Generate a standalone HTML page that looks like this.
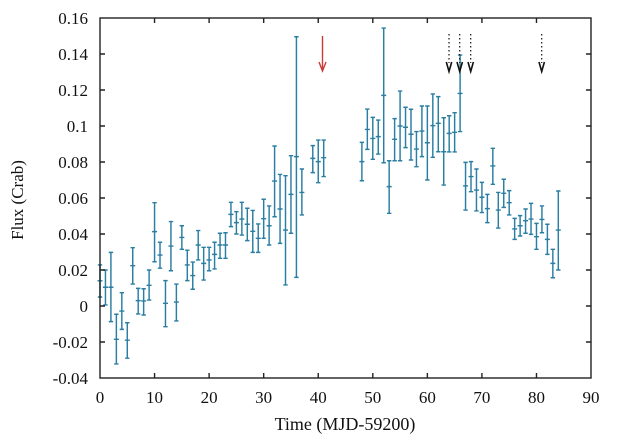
<!DOCTYPE html>
<html>
<head>
<meta charset="utf-8">
<style>
html,body{margin:0;padding:0;background:#fff;}
svg{display:block;}
text{font-family:"Liberation Serif",serif;fill:#111;}
</style>
</head>
<body>
<svg width="634" height="442" viewBox="0 0 634 442" xmlns="http://www.w3.org/2000/svg">
<rect x="0" y="0" width="634" height="442" fill="#fff"/>
<g transform="translate(100,306) scale(5.456,-1800)">
<path fill="none" stroke="#2a7ea2" stroke-width="1.45" vector-effect="non-scaling-stroke" d="M0 .005V.0228m-.4 0h.8M-.4 .005h.8M-.46 .014h.92 M1 .0006V.02m-.4 0h.8M.6 .0006h.8M.54 .0104h.92 M2 -.0087V.0298m-.4 0h.8M1.6 -.0087h.8M1.54 .0104h.92 M3 -.0322V-.0046m-.4 0h.8M2.6 -.0322h.8M2.54 -.0185h.92 M4 -.013V.0074m-.4 0h.8M3.6 -.013h.8M3.54 -.0028h.92 M5 -.029V-.0093m-.4 0h.8M4.6 -.029h.8M4.54 -.019h.92 M6 .0122V.0324m-.4 0h.8M5.6 .0122h.8M5.54 .0224h.92 M7 -.0044V.0098m-.4 0h.8M6.6 -.0044h.8M6.54 .003h.92 M8 -.005V.0096m-.4 0h.8M7.6 -.005h.8M7.54 .0028h.92 M9 .0033V.02m-.4 0h.8M8.6 .0033h.8M8.54 .0115h.92 M10 .0246V.0574m-.4 0h.8M9.6 .0246h.8M9.54 .0413h.92 M11 .021V.0354m-.4 0h.8M10.6 .021h.8M10.54 .0283h.92 M12 -.0115V.0141m-.4 0h.8M11.6 -.0115h.8M11.54 .0015h.92 M13 .0196V.0469m-.4 0h.8M12.6 .0196h.8M12.54 .0333h.92 M14 -.0083V.0122m-.4 0h.8M13.6 -.0083h.8M13.54 .0022h.92 M15 .0315V.0446m-.4 0h.8M14.6 .0315h.8M14.54 .0381h.92 M16 .0141V.031m-.4 0h.8M15.6 .0141h.8M15.54 .0228h.92 M17 .0093V.0244m-.4 0h.8M16.6 .0093h.8M16.54 .0169h.92 M18 .0256V.0419m-.4 0h.8M17.6 .0256h.8M17.54 .0339h.92 M19 .0144V.0326m-.4 0h.8M18.6 .0144h.8M18.54 .0237h.92 M20 .0196V.0326m-.4 0h.8M19.6 .0196h.8M19.54 .0256h.92 M21 .0206V.0354m-.4 0h.8M20.6 .0206h.8M20.54 .0287h.92 M22 .0265V.0404m-.4 0h.8M21.6 .0265h.8M21.54 .0339h.92 M23 .0265V.0407m-.4 0h.8M22.6 .0265h.8M22.54 .0339h.92 M24 .0441V.0576m-.4 0h.8M23.6 .0441h.8M23.54 .0509h.92 M25 .04V.0524m-.4 0h.8M24.6 .04h.8M24.54 .0463h.92 M26 .0394V.0576m-.4 0h.8M25.6 .0394h.8M25.54 .0483h.92 M27 .0363V.0543m-.4 0h.8M26.6 .0363h.8M26.54 .0454h.92 M28 .0298V.0531m-.4 0h.8M27.6 .0298h.8M27.54 .0415h.92 M29 .0298V.0456m-.4 0h.8M28.6 .0298h.8M28.54 .0376h.92 M30 .0376V.0593m-.4 0h.8M29.6 .0376h.8M29.54 .0485h.92 M31 .0339V.0556m-.4 0h.8M30.6 .0339h.8M30.54 .0446h.92 M32 .0496V.0889m-.4 0h.8M31.6 .0496h.8M31.54 .0694h.92 M33 .0348V.0731m-.4 0h.8M32.6 .0348h.8M32.54 .0539h.92 M34 .0117V.0724m-.4 0h.8M33.6 .0117h.8M33.54 .0422h.92 M35 .0404V.0835m-.4 0h.8M34.6 .0404h.8M34.54 .062h.92 M36 .0159V.1496m-.4 0h.8M35.6 .0159h.8M35.54 .083h.92 M37 .0506V.0761m-.4 0h.8M36.6 .0506h.8M36.54 .0631h.92 M39 .0741V.0891m-.4 0h.8M38.6 .0741h.8M38.54 .082h.92 M40 .0685V.0922m-.4 0h.8M39.6 .0685h.8M39.54 .0802h.92 M41 .0719V.0922m-.4 0h.8M40.6 .0719h.8M40.54 .0824h.92 M48 .0696V.0909m-.4 0h.8M47.6 .0696h.8M47.54 .0802h.92 M49 .087V.1094m-.4 0h.8M48.6 .087h.8M48.54 .0981h.92 M50 .0815V.1048m-.4 0h.8M49.6 .0815h.8M49.54 .0931h.92 M51 .0844V.1033m-.4 0h.8M50.6 .0844h.8M50.54 .0941h.92 M52 .0796V.1544m-.4 0h.8M51.6 .0796h.8M51.54 .117h.92 M53 .0515V.0807m-.4 0h.8M52.6 .0515h.8M52.54 .0663h.92 M54 .0807V.1041m-.4 0h.8M53.6 .0807h.8M53.54 .0926h.92 M55 .0807V.1194m-.4 0h.8M54.6 .0807h.8M54.54 .1h.92 M56 .088V.1104m-.4 0h.8M55.6 .088h.8M55.54 .0993h.92 M57 .0811V.1093m-.4 0h.8M56.6 .0811h.8M56.54 .0954h.92 M58 .0774V.0969m-.4 0h.8M57.6 .0774h.8M57.54 .0872h.92 M59 .083V.1111m-.4 0h.8M58.6 .083h.8M58.54 .0972h.92 M60 .07V.1111m-.4 0h.8M59.6 .07h.8M59.54 .0907h.92 M61 .0826V.1178m-.4 0h.8M60.6 .0826h.8M60.54 .1002h.92 M62 .0857V.1163m-.4 0h.8M61.6 .0857h.8M61.54 .1015h.92 M63 .0672V.1046m-.4 0h.8M62.6 .0672h.8M62.54 .0857h.92 M64 .0856V.1057m-.4 0h.8M63.6 .0856h.8M63.54 .0959h.92 M65 .0856V.1074m-.4 0h.8M64.6 .0856h.8M64.54 .0965h.92 M66 .0969V.1394m-.4 0h.8M65.6 .0969h.8M65.54 .1181h.92 M67 .0533V.0798m-.4 0h.8M66.6 .0533h.8M66.54 .0667h.92 M68 .0635V.0802m-.4 0h.8M67.6 .0635h.8M67.54 .0719h.92 M69 .0528V.0761m-.4 0h.8M68.6 .0528h.8M68.54 .0644h.92 M70 .0519V.0687m-.4 0h.8M69.6 .0519h.8M69.54 .0604h.92 M71 .0463V.062m-.4 0h.8M70.6 .0463h.8M70.54 .0541h.92 M72 .0676V.0876m-.4 0h.8M71.6 .0676h.8M71.54 .0778h.92 M73 .0433V.0631m-.4 0h.8M72.6 .0433h.8M72.54 .0533h.92 M74 .0548V.0704m-.4 0h.8M73.6 .0548h.8M73.54 .0626h.92 M75 .0506V.0641m-.4 0h.8M74.6 .0506h.8M74.54 .0574h.92 M76 .037V.0487m-.4 0h.8M75.6 .037h.8M75.54 .0428h.92 M77 .0389V.0502m-.4 0h.8M76.6 .0389h.8M76.54 .0446h.92 M78 .0404V.0539m-.4 0h.8M77.6 .0404h.8M77.54 .0474h.92 M79 .0398V.057m-.4 0h.8M78.6 .0398h.8M78.54 .0483h.92 M80 .0315V.0459m-.4 0h.8M79.6 .0315h.8M79.54 .0385h.92 M81 .0407V.0556m-.4 0h.8M80.6 .0407h.8M80.54 .0481h.92 M82 .0287V.0454m-.4 0h.8M81.6 .0287h.8M81.54 .037h.92 M83 .0157V.0315m-.4 0h.8M82.6 .0157h.8M82.54 .0237h.92 M84 .02V.0639m-.4 0h.8M83.6 .02h.8M83.54 .0422h.92"/>
</g>
<g fill="none">
<path d="M322.5 36V70M319 62L322.5 71L326 62" stroke="#cc3a35" stroke-width="1.4"/>
<path d="M449 34V63M459.7 34V63M470.7 34V63M541.7 34V63" stroke="#111" stroke-width="1.2" stroke-dasharray="1.5 2.5"/>
<path d="M446.3 62L449 71.5L451.7 62M457 62L459.7 71.5L462.4 62M468 62L470.7 71.5L473.4 62M539 62L541.7 71.5L544.4 62" stroke="#111" stroke-width="1.6"/>
</g>
<g stroke="#222" stroke-width="1.4" fill="none">
<rect x="100" y="18" width="491" height="360"/>
<path d="M154.56 378v-5M209.12 378v-5M263.68 378v-5M318.24 378v-5M372.8 378v-5M427.36 378v-5M481.92 378v-5M536.48 378v-5M154.56 18v5M209.12 18v5M263.68 18v5M318.24 18v5M372.8 18v5M427.36 18v5M481.92 18v5M536.48 18v5M100 54h5M100 90h5M100 126h5M100 162h5M100 198h5M100 234h5M100 270h5M100 306h5M100 342h5M591 54h-5M591 90h-5M591 126h-5M591 162h-5M591 198h-5M591 234h-5M591 270h-5M591 306h-5M591 342h-5"/>
</g>
<g font-size="17" text-anchor="end">
<text x="88" y="24">0.16</text>
<text x="88" y="60">0.14</text>
<text x="88" y="96">0.12</text>
<text x="88" y="132">0.1</text>
<text x="88" y="168">0.08</text>
<text x="88" y="204">0.06</text>
<text x="88" y="240">0.04</text>
<text x="88" y="276">0.02</text>
<text x="88" y="312">0</text>
<text x="88" y="348">-0.02</text>
<text x="88" y="384">-0.04</text>
</g>
<g font-size="17" text-anchor="middle">
<text x="100" y="403">0</text>
<text x="154.56" y="403">10</text>
<text x="209.12" y="403">20</text>
<text x="263.68" y="403">30</text>
<text x="318.24" y="403">40</text>
<text x="372.8" y="403">50</text>
<text x="427.36" y="403">60</text>
<text x="481.92" y="403">70</text>
<text x="536.48" y="403">80</text>
<text x="591" y="403">90</text>
</g>
<text x="345" y="430" font-size="18" text-anchor="middle">Time (MJD-59200)</text>
<text transform="translate(23,200) rotate(-90)" font-size="17" text-anchor="middle">Flux (Crab)</text>
</svg>
</body>
</html>
